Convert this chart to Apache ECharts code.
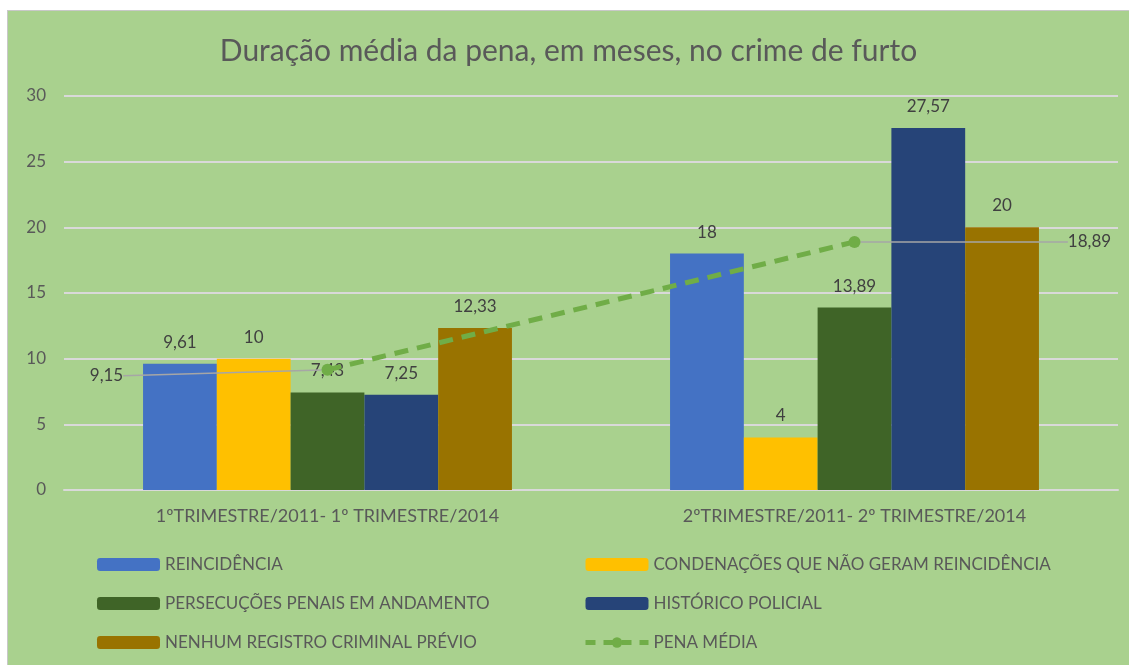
<!DOCTYPE html>
<html><head><meta charset="utf-8">
<script src="https://cdn.jsdelivr.net/npm/echarts@6/dist/echarts.min.js"></script>
<style>
html,body{margin:0;padding:0;background:#fff;width:1129px;height:665px;overflow:hidden}
#c{position:absolute;left:7px;top:10px;width:1121px;height:654px;border-left:1px solid #c8c8c8;border-top:1px solid #c8c8c8;background:#a9d18e}
</style></head><body>
<div id="c"></div>
<script>
const categories = ['1ºTRIMESTRE/2011- 1º TRIMESTRE/2014', '2ºTRIMESTRE/2011- 2º TRIMESTRE/2014'];
const seriesNames = ['REINCIDÊNCIA', 'CONDENAÇÕES QUE NÃO GERAM REINCIDÊNCIA', 'PERSECUÇÕES PENAIS EM ANDAMENTO', 'HISTÓRICO POLICIAL', 'NENHUM REGISTRO CRIMINAL PRÉVIO', 'PENA MÉDIA'];
const reincidencia = [9.61, 18];
const condenacoes = [10, 4];
const persecucoes = [7.43, 13.89];
const historico = [7.25, 27.57];
const nenhumRegistro = [12.33, 20];
const penaMedia = [9.15, 18.89];
const yMin = 0, yMax = 30, yStep = 5;

const colors = ['#4472c4', '#ffc000', '#3f6427', '#264478', '#997300', '#70ad47'];
const FONT = 'Lato';
const TXT = '#404040';
const fmt = p => String(p.value).replace('.', ',');

const barValues = [reincidencia, condenacoes, persecucoes, historico, nenhumRegistro];
const barSeries = barValues.map((vals, i) => ({
  name: seriesNames[i],
  type: 'bar',
  data: vals,
  barGap: '0%',
  barCategoryGap: '30%',
  itemStyle: { color: colors[i] },
  label: { show: true, position: 'top', distance: 13, formatter: fmt, color: TXT, fontFamily: FONT, fontSize: 17 },
  z: 2
}));

const legendText = { fontFamily: FONT, fontSize: 17, color: '#595959' };
const chart = echarts.init(document.getElementById('c'), null, { renderer: 'canvas' });
chart.setOption({
  backgroundColor: '#a9d18e',
  animation: false,
  title: {
    text: 'Duração média da pena, em meses, no crime de furto',
    left: 'center', top: 20,
    textStyle: { fontFamily: FONT, fontSize: 30, fontWeight: 'normal', color: '#595959' }
  },
  grid: { left: 56, right: 11, top: 85, bottom: 175, containLabel: false },
  legend: [
    {
      orient: 'vertical', left: 84, top: 540, itemWidth: 63, itemHeight: 13, itemGap: 22,
      data: [seriesNames[0], seriesNames[2], seriesNames[4]],
      textStyle: legendText
    },
    {
      orient: 'vertical', left: 570, top: 540, itemWidth: 63, itemHeight: 13, itemGap: 22,
      data: [seriesNames[1], seriesNames[3], { name: seriesNames[5], lineStyle: { width: 5, type: [10, 8] } }],
      textStyle: legendText
    }
  ],
  xAxis: {
    type: 'category', data: categories,
    axisLine: { show: true, lineStyle: { color: '#d9d9d9', width: 2 } },
    axisTick: { show: false },
    axisLabel: { color: '#595959', fontFamily: FONT, fontSize: 18, margin: 17 }
  },
  yAxis: {
    type: 'value', min: yMin, max: yMax, interval: yStep,
    axisLine: { show: false }, axisTick: { show: false },
    axisLabel: { color: '#595959', fontFamily: FONT, fontSize: 17, margin: 18 },
    splitLine: { lineStyle: { color: '#d9d9d9', width: 2 } }
  },
  series: barSeries.concat([{
    name: seriesNames[5],
    type: 'line',
    data: penaMedia,
    symbol: 'circle', symbolSize: 12,
    itemStyle: { color: colors[5] },
    lineStyle: { color: colors[5], width: 5, type: [14, 9] },
    label: { show: true, position: 'inside', formatter: fmt, color: TXT, fontFamily: FONT, fontSize: 17 },
    labelLayout: p => p.dataIndex === 0 ? { dx: -221, dy: 6 } : { dx: 235, dy: 0 },
    labelLine: { show: true, lineStyle: { color: '#a6a6a6', width: 1.5 } },
    z: 5
  }])
});
</script>
</body></html>
